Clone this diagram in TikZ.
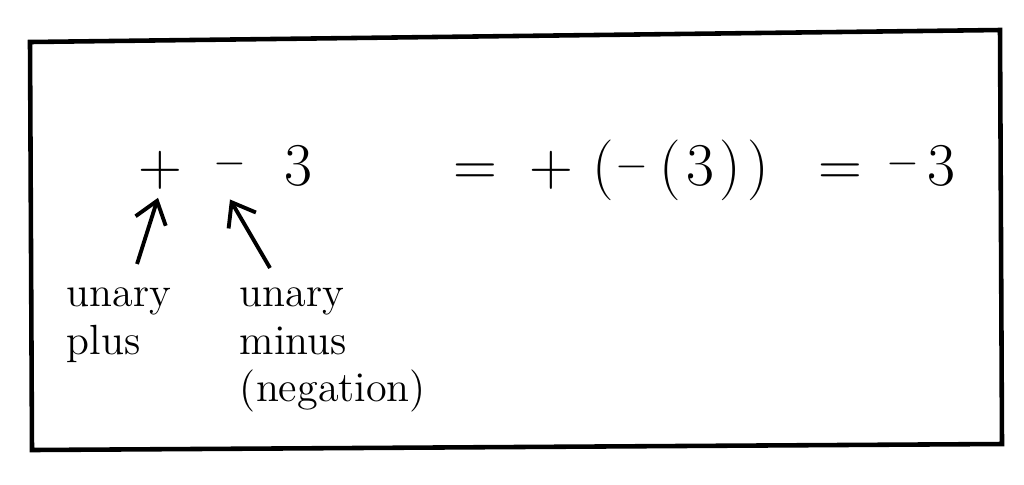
\documentclass[tikz,border=0pt]{standalone}
\usepackage{amsmath,amssymb}
\usepackage{tikz}
\usetikzlibrary{arrows.meta,positioning}

\begin{document}
\begin{tikzpicture}[x=0.01cm,y=-0.01cm,line width=1.1pt,
  sym/.style={inner sep=0pt,anchor=base,font=\fontsize{19}{24}\selectfont},
  neg/.style={inner sep=0pt,anchor=base,font=\fontsize{13}{15}\selectfont},
  lbl/.style={inner sep=0pt,align=left,font=\fontsize{12}{13.5}\selectfont},
  pointer/.style={-{Straight Barb[length=6pt,width=9pt]},line width=1.1pt}]
\useasboundingbox (0,0) rectangle (1024,484);
% frame
\draw[line width=1.3pt] (30,42) -- (1000,30) -- (1002,444) -- (32,450) -- cycle;

\node[sym] (plus)  at (160,185) {$+$};
\node[neg] (minus) at (230,174) {$-$};
\node[sym] (three) at (298,185) {$3$};
% the expanded form, one glyph at a time
\foreach \g/\x [count=\i] in {{=}/475, {+}/551, {(}/603, {(}/670,
    {3}/700, {)}/730, {)}/758, {=}/840, {3}/941}
  \node[sym] (ex\i) at (\x,185) {$\g$};
\node[neg] (exneg1) at (632,177) {$-$};
\node[neg] (exneg2) at (903,174) {$-$};

\node[lbl,anchor=north west] (lblplus)  at (65,286)  {unary\\plus};
\node[lbl,anchor=north west] (lblminus) at (238,286) {unary\\minus\\(negation)};

\draw[pointer] ([xshift=0.72cm,yshift=0.22cm]lblplus.north west) -- ([xshift=-0.02cm,yshift=-0.07cm]plus.south);
\draw[pointer] ([xshift=0.32cm,yshift=0.18cm]lblminus.north west) -- ([yshift=-0.2cm]minus.south);
\end{tikzpicture}
\end{document}
